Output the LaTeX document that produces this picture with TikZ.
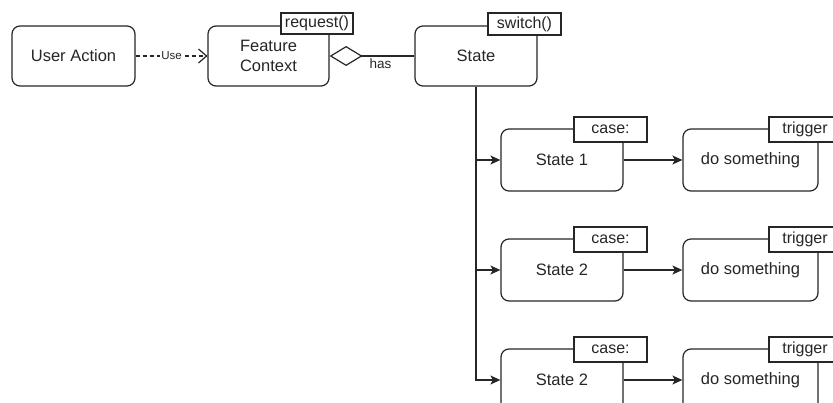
\documentclass[tikz,border=0pt]{standalone}
\usepackage{fontspec}
\setmainfont{Liberation Sans}
\usetikzlibrary{arrows.meta}
\definecolor{ink}{HTML}{262626}
\tikzset{
  box/.style={draw=ink, line width=1.2pt, rounded corners=8pt, fill=white, text=ink,
    inner sep=0pt, font=\fontsize{16.5}{20}\selectfont, align=center},
  tag/.style={draw=ink, line width=1.1pt, fill=white, text=ink, inner sep=0pt,
    font=\fontsize{16}{18}\selectfont},
  conn/.style={draw=ink, line width=1.2pt},
  arr/.style={conn, -{Stealth[length=10pt,width=9pt,inset=2.5pt]}},
  lbl/.style={text=ink, inner sep=1pt}
}
\begin{document}
\begin{tikzpicture}[x=1pt,y=-1pt]
\useasboundingbox (0,0) rectangle (833,403);
\clip (0,0) rectangle (833,403);
% main row
\node[box, minimum width=123pt, minimum height=60pt] (user) at (73.5,56) {User Action};
\node[box, minimum width=121pt, minimum height=60pt] (feat) at (268.5,56) {Feature\\Context};
\node[box, minimum width=122pt, minimum height=60pt] (state) at (476,56) {State};
\node[tag, minimum width=72pt, minimum height=21pt] (treq) at (317,23.5) {request()};
\node[tag, minimum width=73pt, minimum height=22pt] (tsw) at (524.5,24) {switch()};
% connectors of main row
\draw[conn, dash pattern=on 4pt off 3pt, -{Straight Barb[length=8pt,width=14pt]}] (user) -- (feat)
  node[midway, fill=white, lbl, font=\fontsize{11.5}{12}\selectfont] (use) {Use};
\draw[conn, {Diamond[open,length=33pt,width=20pt]}-] (feat) -- (state)
  node[pos=0.6, below=1pt, lbl, font=\fontsize{13.5}{14}\selectfont] (has) {has};
% rows
\foreach \i/\y/\t in {1/160/State 1, 2/270/State 2, 3/380/State 2}{
  \node[box, minimum width=122pt, minimum height=62pt] (s\i) at (562,\y) {\t};
  \node[box, minimum width=135pt, minimum height=62pt] (d\i) at (750.5,\y) {do something};
  \node[tag, minimum width=73pt, minimum height=25pt] (c\i) at (610.5,\y-30.5) {case:};
  \node[tag, minimum width=72pt, minimum height=25pt] (g\i) at (805,\y-30.5) {trigger};
  \draw[arr] (state.south) |- (s\i.west);
  \draw[arr] (s\i) -- (d\i);
}
\end{tikzpicture}
\end{document}
